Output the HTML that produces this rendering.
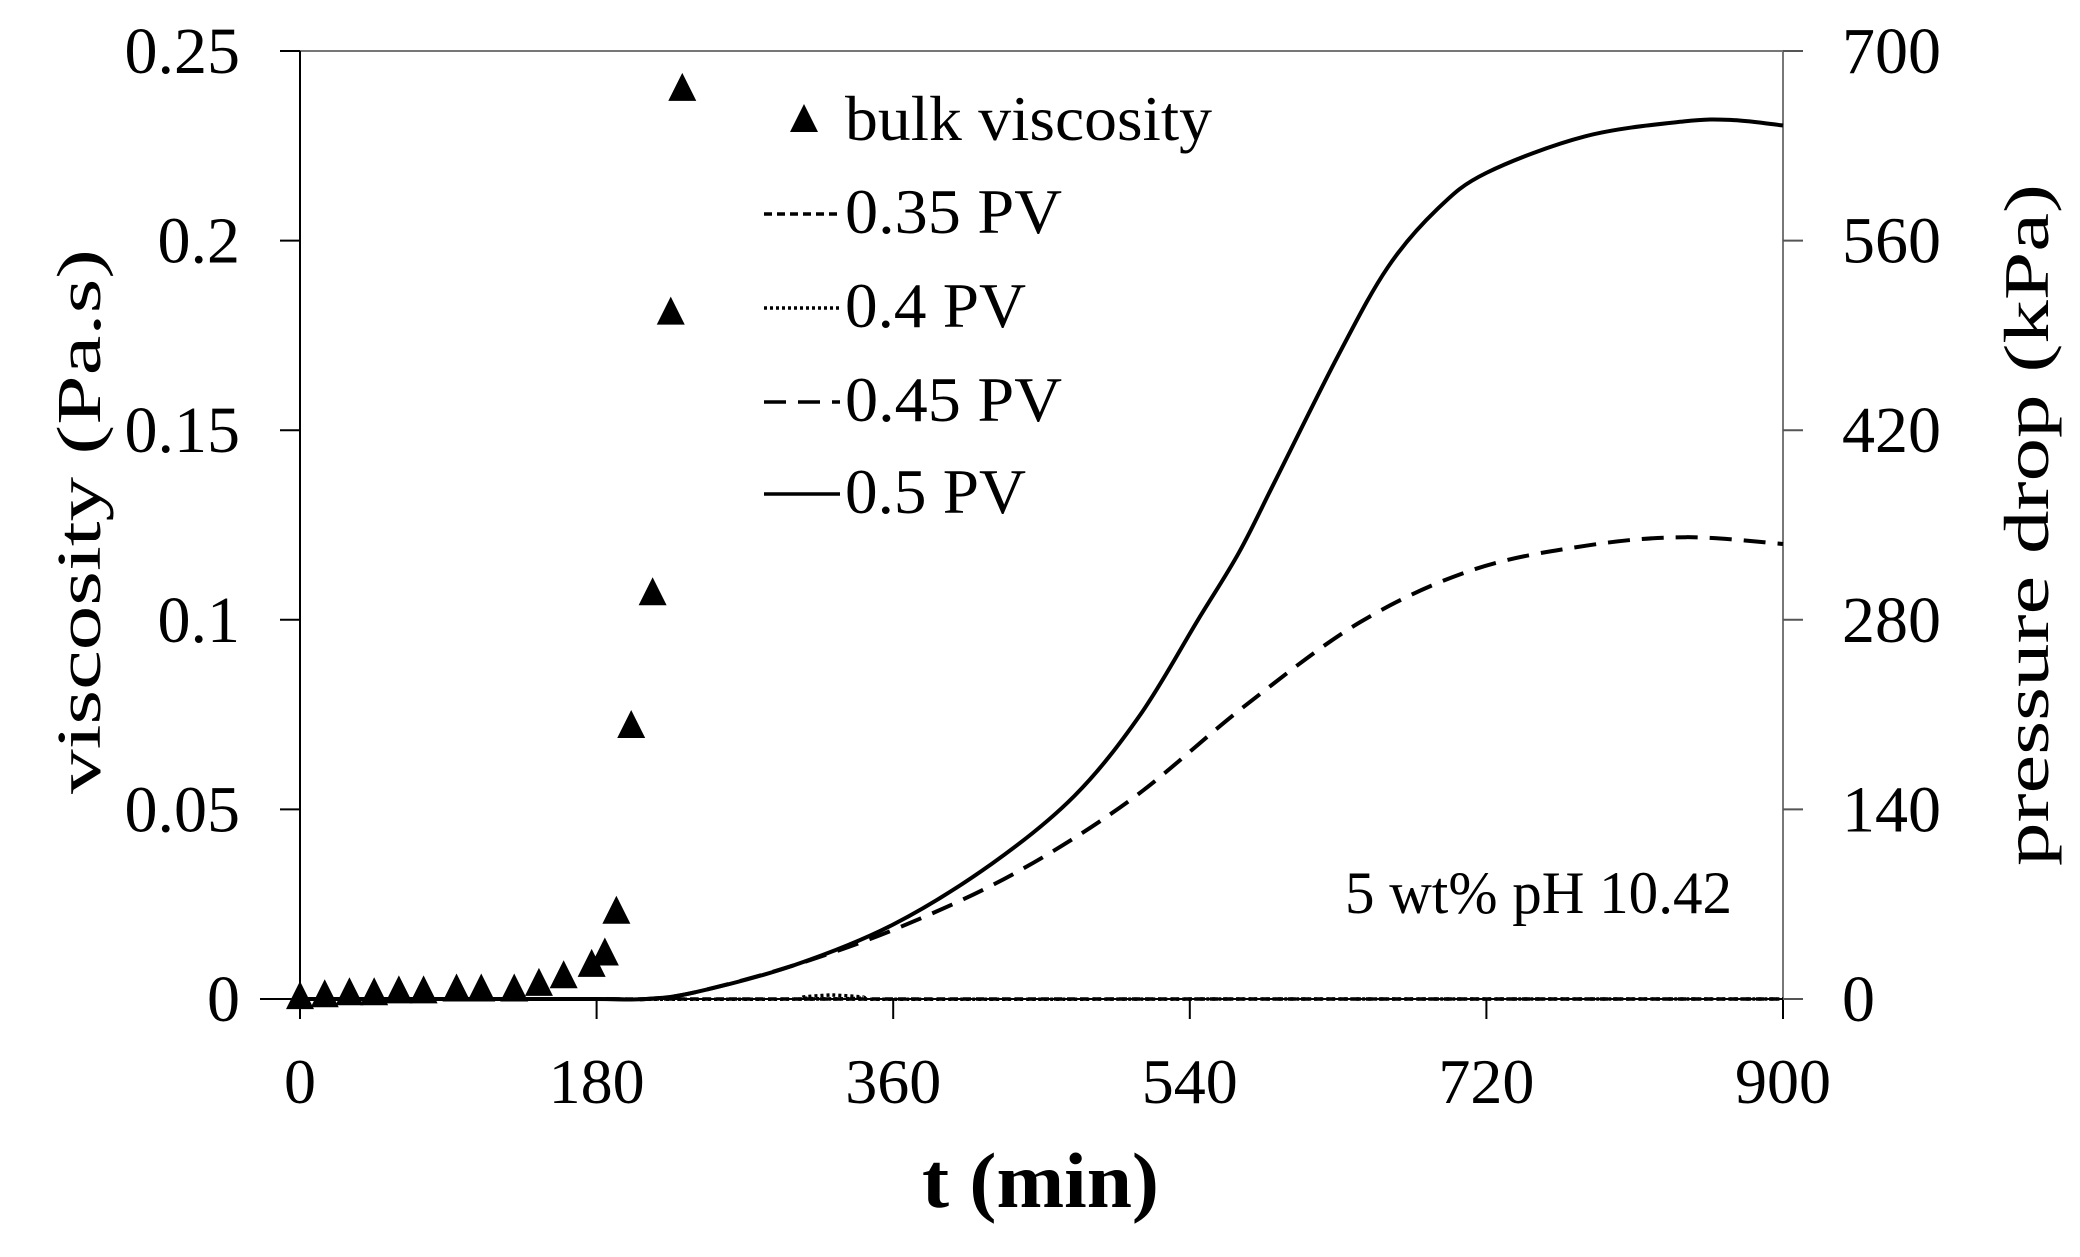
<!DOCTYPE html>
<html><head><meta charset="utf-8"><style>
html,body{margin:0;padding:0;background:#fff;}
svg{display:block;font-family:"Liberation Serif",serif;}
</style></head><body>
<svg id="chart" width="2080" height="1257" viewBox="0 0 2080 1257" xmlns="http://www.w3.org/2000/svg">
<g id="axes"></g>
<g id="series"></g>
<g id="legend"></g>
</svg>
<script>
const xTicks=[0,180,360,540,720,900];
const yTicks=[0,0.05,0.1,0.15,0.2,0.25];
const yTickLabels=["0","0.05","0.1","0.15","0.2","0.25"];
const y2Ticks=[0,140,280,420,560,700];
const bulkT=[0,15,30,45,60,75,95,110,130,145,160,177,185,192,201,214,225,232];
const bulkVis=[0.0005,0.001,0.0015,0.0015,0.002,0.002,0.0025,0.0025,0.0025,0.004,0.006,0.009,0.012,0.023,0.072,0.107,0.181,0.240];
const pv50T=[0,100,180,210,240,300,360,420,470,510,545,570,592,630,660,690,720,780,840,870,900];
const pv50P=[0,0,0,0,5,25,55,100,150,210,280,330,383,475,540,583,610,637,648,649,645];
const pv45T=[0,100,180,210,240,300,364,434,504,573,643,712,782,841,900];
const pv45P=[0,0,0,0,5,25,53,93,147,216,278,317,335,341,336];
const pv35T=[0,300,600,900];
const pv35P=[0,0,0,0];
const pv40T=[0,318,322,326,600,900];
const pv40P=[0,0,3,0,0,0];

const X0=300,X1=1783,Y0=999,Y1=51;
const xs=t=>X0+(t/900)*(X1-X0);
const ys=v=>Y0-(v/0.25)*(Y0-Y1);
const ys2=p=>Y0-(p/700)*(Y0-Y1);
const NS="http://www.w3.org/2000/svg";
function mk(tag,parent,attrs){const e=document.createElementNS(NS,tag);for(const k in attrs)e.setAttribute(k,attrs[k]);parent.appendChild(e);return e;}
const axes=document.getElementById('axes'),series=document.getElementById('series'),legend=document.getElementById('legend');

let e=mk('rect',axes,{x:X0,y:Y1,width:X1-X0,height:Y0-Y1,fill:'none',stroke:'#777','stroke-width':2});

e=mk('line',axes,{x1:X0,y1:Y1,x2:X0,y2:Y0+1,stroke:'#000','stroke-width':2});

e=mk('line',axes,{x1:X0-40,y1:Y0,x2:X1,y2:Y0,stroke:'#000','stroke-width':2});


yTicks.forEach((v,i)=>{
  let l=mk('line',axes,{x1:X0-20,y1:ys(v),x2:X0,y2:ys(v),stroke:'#000','stroke-width':2});
  
  let t=mk('text',axes,{x:240,y:ys(v)+22,'text-anchor':'end','font-size':66});
  t.textContent=yTickLabels[i];
  
});
xTicks.forEach(v=>{
  let l=mk('line',axes,{x1:xs(v),y1:Y0,x2:xs(v),y2:Y0+20,stroke:'#000','stroke-width':2});
  
  let t=mk('text',axes,{x:xs(v),y:1103,'text-anchor':'middle','font-size':64});
  t.textContent=String(v);
  
});
y2Ticks.forEach(v=>{
  let l=mk('line',axes,{x1:X1,y1:ys2(v),x2:X1+20,y2:ys2(v),stroke:'#555','stroke-width':2});
  
  let t=mk('text',axes,{x:1842,y:ys2(v)+22,'text-anchor':'start','font-size':66});
  t.textContent=String(v);
  
});
e=mk('text',axes,{x:922,y:1207,'font-size':78,'font-weight':'bold',textLength:237,lengthAdjust:'spacingAndGlyphs'});e.textContent='t (min)';

e=mk('text',axes,{x:-272,y:0,'font-size':62,textLength:545,lengthAdjust:'spacingAndGlyphs',transform:'translate(100,522) rotate(-90)'});e.textContent='viscosity (Pa.s)';

e=mk('text',axes,{x:-341,y:0,'font-size':64,textLength:682,lengthAdjust:'spacingAndGlyphs',transform:'translate(2048,525) rotate(-90)'});e.textContent='pressure drop (kPa)';

e=mk('text',axes,{x:1345,y:913,'font-size':60,textLength:387,lengthAdjust:'spacingAndGlyphs'});e.textContent='5 wt% pH 10.42';


function smooth(T,P){
  const pts=T.map((t,i)=>[xs(t),ys2(P[i])]);
  let d='M'+pts[0][0]+','+pts[0][1];
  for(let i=0;i<pts.length-1;i++){
    const p0=pts[i-1]||pts[i],p1=pts[i],p2=pts[i+1],p3=pts[i+2]||p2;
    const c1=[p1[0]+(p2[0]-p0[0])/6,p1[1]+(p2[1]-p0[1])/6];
    const c2=[p2[0]-(p3[0]-p1[0])/6,p2[1]-(p3[1]-p1[1])/6];
    d+=` C${c1[0]},${c1[1]} ${c2[0]},${c2[1]} ${p2[0]},${p2[1]}`;
  }
  return d;
}
e=mk('path',series,{d:smooth(pv35T,pv35P),fill:'none',stroke:'#000','stroke-width':3.5,'stroke-dasharray':'8,5'});

e=mk('path',series,{d:smooth(pv40T,pv40P),fill:'none',stroke:'#000','stroke-width':3.5,'stroke-dasharray':'3,3'});

e=mk('path',series,{d:smooth(pv45T,pv45P),fill:'none',stroke:'#000','stroke-width':4,'stroke-dasharray':'22,12'});

e=mk('path',series,{d:smooth(pv50T,pv50P),fill:'none',stroke:'#000','stroke-width':4});


function tri(parent,cx,cy){return mk('polygon',parent,{points:`${cx},${cy-16} ${cx-14},${cy+12} ${cx+14},${cy+12}`,fill:'#000'});}
bulkT.forEach((t,i)=>{
  const p=tri(series,xs(t),ys(bulkVis[i]));
  
  
});

e=tri(legend,804,120);
const legRows=[['bulk viscosity',140,null,367],['0.35 PV',233,'8,5',217],['0.4 PV',327,'3,3',181],['0.45 PV',421,'22,12',217],['0.5 PV',513,'none',181]];
legRows.forEach(r=>{
  if(r[2]){
    const l=mk('line',legend,{x1:764,y1:r[1]-19,x2:840,y2:r[1]-19,stroke:'#000','stroke-width':3.5,'stroke-dasharray':r[2]});
    
  }
  const t=mk('text',legend,{x:845,y:r[1],'font-size':64,textLength:r[3],lengthAdjust:'spacingAndGlyphs'});t.textContent=r[0];
  
});
</script>
</body></html>
